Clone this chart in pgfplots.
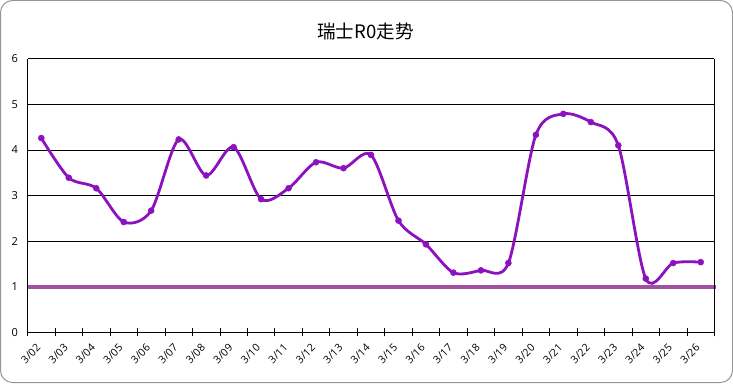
\documentclass[border=0pt]{standalone}
\usepackage{fontspec}
\setmainfont{Open Sans}
\newfontfamily\cjk{Noto Sans CJK SC}
\usepackage{pgfplots}
\pgfplotsset{compat=1.18}
\definecolor{lineP}{RGB}{140,18,190}
\definecolor{refP}{RGB}{160,82,160}
\definecolor{frameG}{RGB}{150,150,150}
\begin{document}
\begin{tikzpicture}
\begin{axis}[
  at={(0pt,0pt)}, anchor=south west,
  scale only axis, width=685pt, height=273pt,
  xmin=-0.5, xmax=24.5, ymin=0, ymax=6,
  ytick={0,1,...,6},
  ymajorgrids, grid style={black, line width=0.8pt},
  y tick style={draw=none},
  xtick={0,...,24},
  xticklabels={3/02,3/03,3/04,3/05,3/06,3/07,3/08,3/09,3/10,3/11,3/12,3/13,3/14,3/15,3/16,3/17,3/18,3/19,3/20,3/21,3/22,3/23,3/24,3/25,3/26},
  major x tick style={draw=none},
  minor xtick={-0.5,0.5,...,24.5},
  minor x tick style={black, line width=0.8pt},
  minor tick length=8pt,
  tick align=center,
  x tick label style={rotate=45, anchor=north east, font=\fontsize{10.5}{12}\selectfont, inner sep=1pt, yshift=-1pt, xshift=-9pt},
  y tick label style={font=\fontsize{11}{13}\selectfont, xshift=-4pt},
  /pgf/number format/assume math mode=true,
  axis x line*=bottom,
  clip=false,
  axis line style={black, line width=0.8pt},
]
\addplot[refP, line width=4.5pt] coordinates {(-0.5,1) (24.55,1)};
\addplot[lineP, line width=2.8pt, smooth, tension=0.5, mark=*, mark size=3pt, mark options={fill=lineP, draw=lineP, line width=0.5pt}] coordinates {
(0,4.26) (1,3.39) (2,3.16) (3,2.42) (4,2.67) (5,4.23) (6,3.44) (7,4.06)
(8,2.92) (9,3.16) (10,3.73) (11,3.60) (12,3.89) (13,2.45) (14,1.93)
(15,1.31) (16,1.36) (17,1.52) (18,4.33) (19,4.79) (20,4.61) (21,4.10)
(22,1.18) (23,1.52) (24,1.54)};
\draw[black, line width=0.8pt] (axis cs:-0.5,0) -- (axis cs:-0.5,6);
\draw[black, line width=0.8pt] (axis cs:24.5,0) -- (axis cs:24.5,6);
\end{axis}
\draw[frameG, line width=1pt, rounded corners=12pt] (-27pt,-50pt) rectangle (703pt,331pt);
\node[font=\cjk\fontsize{18.5}{22}\selectfont] at (337pt,300pt) {瑞士R0走势};
\end{tikzpicture}
\end{document}
